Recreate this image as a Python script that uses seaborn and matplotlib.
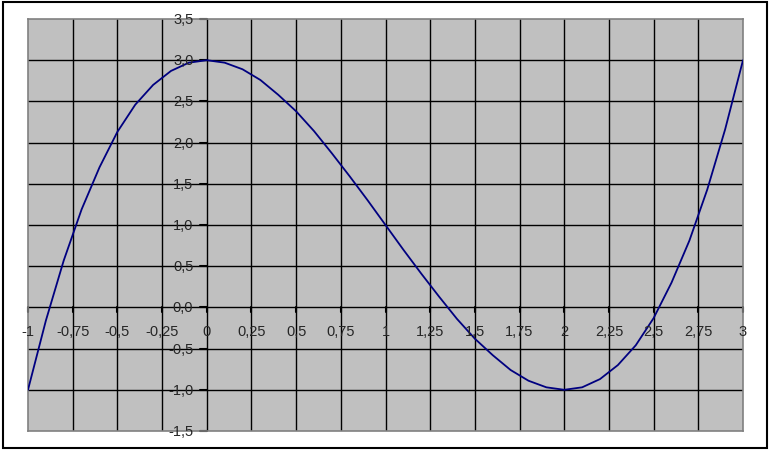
import seaborn as sns
import pandas as pd
import matplotlib.pyplot as plt
from matplotlib.patches import Rectangle

# values
x_vals = [-1.0, -0.9, -0.8, -0.7, -0.6, -0.5, -0.4, -0.3, -0.2, -0.1,
          0.0, 0.1, 0.2, 0.3, 0.4, 0.5, 0.6, 0.7, 0.8, 0.9,
          1.0, 1.1, 1.2, 1.3, 1.4, 1.5, 1.6, 1.7, 1.8, 1.9,
          2.0, 2.1, 2.2, 2.3, 2.4, 2.5, 2.6, 2.7, 2.8, 2.9, 3.0]
y_vals = [-1.0, -0.16, 0.57, 1.19, 1.70, 2.13, 2.46, 2.70, 2.87, 2.97,
          3.0, 2.97, 2.89, 2.76, 2.58, 2.38, 2.14, 1.87, 1.59, 1.30,
          1.0, 0.70, 0.41, 0.13, -0.14, -0.38, -0.58, -0.76, -0.89, -0.97,
          -1.0, -0.97, -0.87, -0.70, -0.46, -0.13, 0.30, 0.81, 1.43, 2.16, 3.0]
x_ticks = [-1, -0.75, -0.5, -0.25, 0, 0.25, 0.5, 0.75, 1, 1.25, 1.5, 1.75, 2, 2.25, 2.5, 2.75, 3]
y_ticks = [-1.5, -1.0, -0.5, 0.0, 0.5, 1.0, 1.5, 2.0, 2.5, 3.0, 3.5]

data = pd.DataFrame({'x': x_vals, 'y': y_vals})

sns.set_style('white')
plt.rcParams['font.family'] = ['Liberation Sans', 'DejaVu Sans']

fig = plt.figure(figsize=(7.71, 4.52), dpi=100)
ax = fig.add_axes([28 / 771, 20 / 452, 715 / 771, 412 / 452])
ax.set_facecolor('#c0c0c0')

# outer frame around the whole chart
fig.patches.append(Rectangle((3 / 771, 3 / 452), 764 / 771, 446 / 452, transform=fig.transFigure,
                             fill=False, edgecolor='black', linewidth=1.5))

ax.set_xlim(-1, 3)
ax.set_ylim(-1.5, 3.5)

# grid lines
for xv in x_ticks[1:-1]:
    ax.axvline(xv, color='black', linewidth=1, zorder=1)
for yv in y_ticks[1:-1]:
    ax.axhline(yv, color='black', linewidth=1, zorder=1)

sns.lineplot(x='x', y='y', data=data, color='#000080', linewidth=1.3, ax=ax, zorder=3,
             solid_joinstyle='round')

# x labels sit along the zero line
for xv in x_ticks:
    lbl = ('%g' % xv).replace('.', ',')
    ax.text(xv, -0.2, lbl, ha='center', va='top', fontsize=10.5, zorder=4)
    ax.plot([xv, xv], [-0.05, 0.0], color='black', linewidth=1.5, zorder=2, clip_on=False)

# y labels sit beside the zero line
for yv in y_ticks:
    lbl = ('%.1f' % yv).replace('.', ',')
    ax.text(-0.075, yv, lbl, ha='right', va='center', fontsize=10.5, zorder=4, clip_on=False)
    ax.plot([-0.035, 0.0], [yv, yv], color='black', linewidth=1.5, zorder=2, clip_on=False)

ax.set_xticks([])
ax.set_yticks([])
ax.set_xlabel('')
ax.set_ylabel('')

for s in ax.spines.values():
    s.set_color('#808080')
    s.set_linewidth(1.2)

fig.savefig('out.png', dpi=100)
